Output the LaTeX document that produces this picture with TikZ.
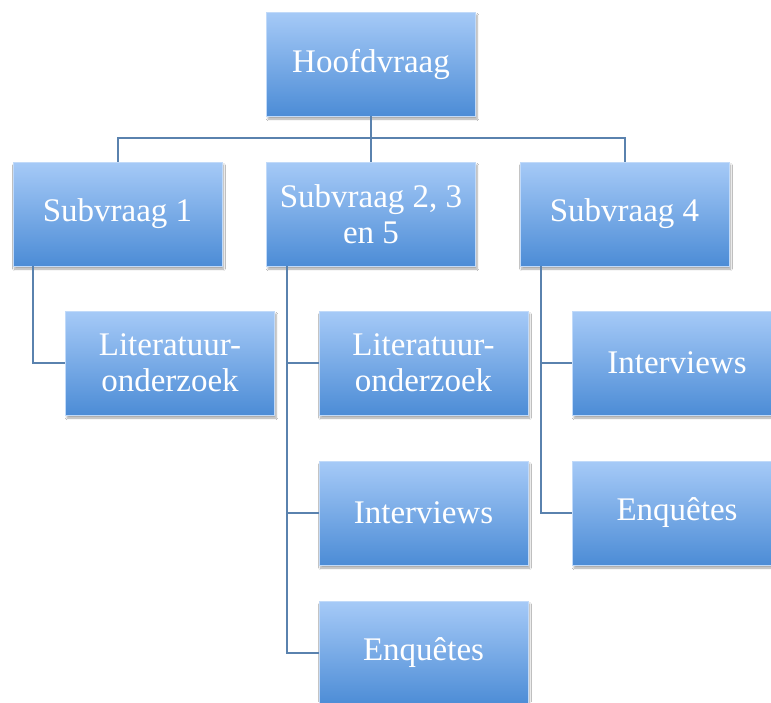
\documentclass[tikz,border=0pt]{standalone}
\usepackage{fontspec}
\setmainfont{Liberation Serif}
\usetikzlibrary{shadows.blur}
\definecolor{boxtop}{HTML}{A6CAF7}
\definecolor{boxbot}{HTML}{4C8CD6}
\definecolor{linecol}{HTML}{5A82AE}
\tikzset{
  qbox/.style={rectangle, minimum width=209pt, minimum height=104pt, inner sep=0pt,
    top color=boxtop, bottom color=boxbot, draw=boxtop!70!white, line width=0.6pt,
    text=white, align=center,
    font=\fontsize{33}{36}\selectfont,
    blur shadow={shadow xshift=1.5pt, shadow yshift=-3pt, shadow blur steps=6, shadow opacity=35}},
  conn/.style={draw=linecol, line width=2pt}
}
\begin{document}
\begin{tikzpicture}[x=1pt,y=-1pt]
\useasboundingbox (0,0) rectangle (771,702);
\clip (0,0) rectangle (771,702);
\fill[white] (0,0) rectangle (771,702);
\coordinate (bar) at (371,138);
\coordinate (c1) at (33,266);
\coordinate (c2) at (287,266);
\coordinate (c4) at (541,266);
\node[qbox] (H) at (371,64) {\raisebox{-3pt}{Hoofdvraag}};
\node[qbox] (S1) at (117.5,214) {\raisebox{-3pt}{Subvraag 1}};
\node[qbox] (S2) at (371,214) {Subvraag 2, 3\\en 5};
\node[qbox] (S4) at (624.5,214) {\raisebox{-3pt}{Subvraag 4}};
\node[qbox] (L1) at (170,363) {Literatuur-\\onderzoek};
\node[qbox] (M1) at (423.5,363) {Literatuur-\\onderzoek};
\node[qbox] (M2) at (423.5,513) {\raisebox{-3pt}{Interviews}};
\node[qbox] (M3) at (423.5,653) {\raisebox{-3pt}{Enquêtes}};
\node[qbox] (R1) at (677,363) {\raisebox{-3pt}{Interviews}};
\node[qbox] (R2) at (677,513) {\raisebox{-3pt}{Enquêtes}};
\draw[conn] (H.south) -- (S2.north);
\draw[conn] (bar) -| (S1.north);
\draw[conn] (bar) -| (S4.north);
\draw[conn] (c1) |- (L1.west);
\draw[conn] (c2) |- (M1.west);
\draw[conn] (c2) |- (M2.west);
\draw[conn] (c2) |- (M3.west);
\draw[conn] (c4) |- (R1.west);
\draw[conn] (c4) |- (R2.west);
\end{tikzpicture}
\end{document}
